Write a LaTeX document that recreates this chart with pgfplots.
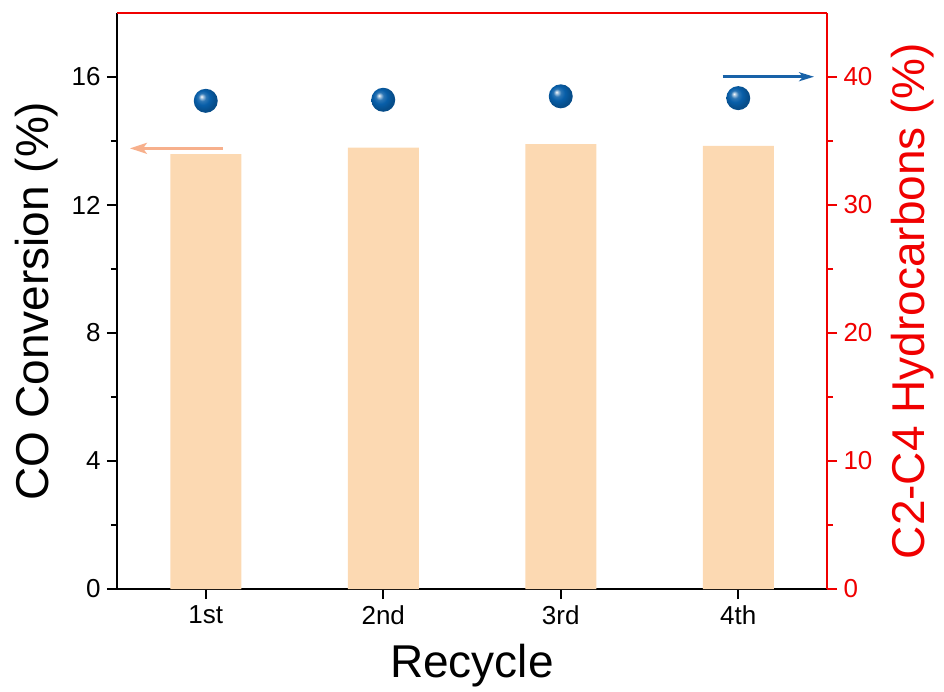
\documentclass[border=0pt]{standalone}
\usepackage{pgfplots}
\pgfplotsset{compat=1.18}
\usepackage{fontspec}
\setmainfont{Liberation Sans}
\usetikzlibrary{arrows.meta}
\definecolor{barc}{RGB}{252,217,178}
\definecolor{arrL}{RGB}{247,176,140}
\definecolor{arrR}{RGB}{24,98,168}
\definecolor{sphc}{RGB}{8,94,168}
\definecolor{axred}{RGB}{240,0,0}
\pgfdeclareradialshading{sphshade}{\pgfpoint{-9bp}{9bp}}{%
  color(0bp)=(white); color(2.5bp)=(sphc!30!white); color(8bp)=(sphc!85!white);
  color(15bp)=(sphc); color(25bp)=(sphc!82!black); color(50bp)=(sphc!82!black)}
\pgfdeclareplotmark{sph}{\pgfpathcircle{\pgfpointorigin}{\pgfplotmarksize}\pgfshadepath{sphshade}{0}\pgfusepath{}}
\begin{document}
\begin{tikzpicture}
\path[use as bounding box] (-117pt,-102pt) rectangle (827pt,589pt);
\begin{axis}[
  at={(0,0)}, anchor=south west, scale only axis,
  width=710pt, height=576pt,
  xmin=0.5, xmax=4.5, ymin=0, ymax=18,
  axis x line*=bottom, axis y line*=left,
  xtick={1,2,3,4}, xticklabels={1st,2nd,3rd,4th},
  ytick={0,4,8,12,16}, minor ytick={2,6,10,14},
  tick align=outside, major tick length=10pt, minor tick length=6pt,
  tick style={line width=1.8pt, black},
  axis line style={line width=1.8pt, -, black},
  tick label style={font=\fontsize{26}{30}\selectfont},
  xticklabel style={yshift=-3pt},
  yticklabel style={xshift=-3pt},
  /pgf/number format/assume math mode=true,
  xlabel={Recycle}, ylabel={CO Conversion (\%)},
  label style={font=\fontsize{46}{52}\selectfont},
  xlabel style={at={(axis description cs:0.5,-0.153)}, anchor=base},
  ylabel style={at={(axis description cs:-0.113,0.5)}, anchor=center},
]
\addplot[ybar, bar width=71pt, fill=barc, draw=none] coordinates {(1,13.59) (2,13.79) (3,13.90) (4,13.85)};
\draw[line width=2.6pt, arrL, -{Stealth[length=17pt,width=11pt,inset=4pt]}] (axis cs:1.095,13.77) -- (axis cs:0.573,13.77);
\end{axis}
\begin{axis}[
  at={(0,0)}, anchor=south west, scale only axis,
  width=710pt, height=576pt,
  xmin=0.5, xmax=4.5, ymin=0, ymax=45,
  axis x line=none, axis y line*=right,
  ytick={0,10,20,30,40}, minor ytick={5,15,25,35},
  tick align=outside, major tick length=10pt, minor tick length=6pt,
  tick style={line width=1.8pt, axred},
  axis line style={line width=1.8pt, -, axred},
  tick label style={font=\fontsize{26}{30}\selectfont, axred},
  yticklabel style={xshift=3pt},
  /pgf/number format/assume math mode=true,
  ylabel={C2-C4 Hydrocarbons (\%)},
  label style={font=\fontsize{46}{52}\selectfont, axred},
  ylabel style={at={(axis description cs:1.12,0.5)}, anchor=center, rotate=0},
  clip=false,
]
\addplot[only marks, mark=sph, mark size=12pt] coordinates {(1,38.14) (2,38.22) (3,38.49) (4,38.35)};
\draw[line width=2.6pt, arrR, -{Stealth[length=15pt,width=9pt,inset=4pt]}] (axis cs:3.912,40.02) -- (axis cs:4.427,40.02);
\draw[line width=1.8pt, axred] (rel axis cs:0,1) -- (rel axis cs:1,1);
\end{axis}
\end{tikzpicture}
\end{document}
